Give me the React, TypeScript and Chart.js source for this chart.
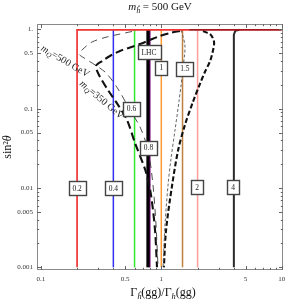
import React, { useEffect, useRef } from "react";
import { Chart, registerables } from "chart.js";

Chart.register(...registerables);

const FONT = "'Liberation Serif', 'DejaVu Serif', serif";

// axis ranges
const xRange = [0.093, 10.23];
const yRange = [0.000925, 1.173];

// tick labels
const xTickValues = [0.1, 0.5, 1, 5, 10];
const xTickText = ["0.1", "0.5", "1", "5", "10"];
const yTickValues = [0.001, 0.005, 0.01, 0.05, 0.1, 0.5, 1];
const yTickText = ["0.001", "0.005", "0.01", "0.05", "0.1", "0.5", "1."];

// contour lines of constant ratio
const contourValues = [0.2, 0.4, 0.6, 0.8, 1, 1.5, 2, 4];
const contourNames = ["0.2", "0.4", "0.6", "0.8", "1", "1.5", "2", "4"];
const lhcValue = 0.775;
const yBottom = 0.001;
const yTop = 0.99;
const xEnd = 10;
const redBendX = 1.7;
const fourHookX = [4, 4, 4.12, 4.45];
const fourHookY = [0.001, 0.86, 0.965, 0.99];

// label boxes
const boxText = ["0.2", "0.4", "0.6", "0.8", "1", "1.5", "2", "4", "LHC"];
const boxX = [0.2, 0.4, 0.566, 0.783, 1.0, 1.57, 1.98, 3.94, 0.791];
const boxY = [0.01, 0.01, 0.1, 0.032, 0.327, 0.322, 0.0102, 0.0102, 0.513];

// m_Q = 500 GeV (left branch)
const m500LeftX = [0.572, 0.437, 0.341, 0.266, 0.229, 0.208, 0.229, 0.282, 0.348, 0.437, 0.55, 0.666, 0.776, 0.853, 0.904, 0.939];
const m500LeftY = [0.944, 0.865, 0.793, 0.695, 0.584, 0.491, 0.437, 0.357, 0.283, 0.178, 0.0965, 0.0589, 0.0302, 0.0109, 0.00342, 0.001];
// m_Q = 500 GeV (right branch)
const m500RightX = [1.46, 1.51, 1.57, 1.56, 1.51, 1.46, 1.4, 1.3, 1.2, 1.137, 1.073, 1.033];
const m500RightY = [0.985, 0.828, 0.637, 0.477, 0.327, 0.2, 0.122, 0.054, 0.0226, 0.0109, 0.00342, 0.001];
// m_Q = 350 GeV (left branch)
const m350LeftX = [1.43, 1.18, 0.976, 0.805, 0.666, 0.55, 0.454, 0.375, 0.323, 0.287, 0.304, 0.361, 0.437, 0.519, 0.605, 0.746, 0.821, 0.887, 0.921];
const m350LeftY = [0.957, 0.904, 0.828, 0.738, 0.656, 0.593, 0.536, 0.463, 0.4, 0.346, 0.267, 0.172, 0.112, 0.0722, 0.037, 0.0159, 0.00817, 0.00295, 0.001];
// m_Q = 350 GeV (right branch)
const m350RightX = [2.22, 2.58, 2.74, 2.69, 2.54, 2.3, 2.09, 1.83, 1.57, 1.38, 1.23, 1.095, 1.05];
const m350RightY = [0.957, 0.852, 0.695, 0.551, 0.4, 0.291, 0.205, 0.122, 0.0624, 0.0302, 0.0109, 0.00295, 0.001];

// curve label anchors
const curveLabelX = [0.159, 0.319];
const curveLabelY = [0.395, 0.129];
const curveLabelMass = ["500", "350"];

const contourColors = ["#f03434", "#3030f0", "#30e830", "#7a007a", "#ff9a30", "#c08040", "#ff9c9c", "#2a2a2a"];

type Part = { t: string; it?: boolean; sub?: boolean };

function partFont(p: Part, size: number) {
  const s = p.sub ? size * 0.7 : size;
  return `${p.it ? "italic " : ""}${s}px ${FONT}`;
}
function measureParts(ctx: CanvasRenderingContext2D, parts: Part[], size: number) {
  let w = 0;
  for (const p of parts) {
    ctx.font = partFont(p, size);
    w += ctx.measureText(p.t).width;
  }
  return w;
}
function drawParts(ctx: CanvasRenderingContext2D, parts: Part[], size: number, cx: number, y: number) {
  const w = measureParts(ctx, parts, size);
  let x = cx - w / 2;
  ctx.textAlign = "left";
  for (const p of parts) {
    ctx.font = partFont(p, size);
    ctx.fillText(p.t, x, y + (p.sub ? size * 0.28 : 0));
    x += ctx.measureText(p.t).width;
  }
}

const zip = (xs: number[], ys: number[]) => xs.map((x, i) => ({ x, y: ys[i] }));

const decorPlugin = {
  id: "decor",
  afterDatasetsDraw(chart: any) {
    const { ctx, chartArea: a, scales } = chart;
    const xs = scales.x;
    const ys = scales.y;
    ctx.save();

    // label boxes
    ctx.textBaseline = "middle";
    for (let i = 0; i < boxText.length; i++) {
      const px = xs.getPixelForValue(boxX[i]);
      const py = ys.getPixelForValue(boxY[i]);
      ctx.font = `7.5px ${FONT}`;
      const tw = ctx.measureText(boxText[i]).width;
      const w = Math.round(tw + 8);
      const h = 14;
      const l = Math.round(px - w / 2) + 0.5;
      const t = Math.round(py - h / 2) + 0.5;
      ctx.fillStyle = "#fff";
      ctx.fillRect(l, t, w, h);
      ctx.strokeStyle = "#444";
      ctx.lineWidth = 1.4;
      ctx.strokeRect(l, t, w, h);
      ctx.fillStyle = "#222";
      ctx.textAlign = "center";
      ctx.fillText(boxText[i], px, py + 0.5);
    }

    // curve labels
    const angles = [30.4, 40];
    for (let i = 0; i < curveLabelX.length; i++) {
      const px = xs.getPixelForValue(curveLabelX[i]);
      const py = ys.getPixelForValue(curveLabelY[i]);
      ctx.save();
      ctx.translate(px, py);
      ctx.rotate((angles[i] * Math.PI) / 180);
      ctx.fillStyle = "#222";
      ctx.textBaseline = "middle";
      drawParts(ctx, [{ t: "m", it: true }, { t: "Q", it: true, sub: true }, { t: `=${curveLabelMass[i]} GeV` }], 10, 0, 0);
      ctx.restore();
    }

    // frame
    ctx.strokeStyle = "#8a8a8a";
    ctx.lineWidth = 1;
    ctx.strokeRect(a.left + 0.5, a.top + 0.5, a.right - a.left - 1, a.bottom - a.top - 1);

    // ticks
    const minorOf = (lo: number, hi: number) => {
      const out: number[] = [];
      for (let d = 0.0001; d <= 100; d *= 10) {
        for (let m = 1; m <= 9; m++) {
          const v = +(m * d).toPrecision(6);
          if (v >= lo && v <= hi) out.push(v);
        }
      }
      return out;
    };
    ctx.strokeStyle = "#666";
    ctx.lineWidth = 1;
    const xAll = minorOf(xRange[0], xRange[1]);
    for (const v of xAll) {
      const major = xTickValues.some((m) => Math.abs(m - v) / m < 1e-6);
      const len = major ? 4 : 2.2;
      const px = Math.round(xs.getPixelForValue(v)) + 0.5;
      ctx.beginPath();
      ctx.moveTo(px, a.bottom);
      ctx.lineTo(px, a.bottom - len);
      ctx.moveTo(px, a.top);
      ctx.lineTo(px, a.top + len);
      ctx.stroke();
    }
    const yAll = minorOf(yRange[0], yRange[1]);
    for (const v of yAll) {
      const major = yTickValues.some((m) => Math.abs(m - v) / m < 1e-6);
      const len = major ? 4 : 2.2;
      const py = Math.round(ys.getPixelForValue(v)) + 0.5;
      ctx.beginPath();
      ctx.moveTo(a.left, py);
      ctx.lineTo(a.left + len, py);
      ctx.moveTo(a.right, py);
      ctx.lineTo(a.right - len, py);
      ctx.stroke();
    }

    // tick labels
    ctx.fillStyle = "#333";
    ctx.font = `7px ${FONT}`;
    ctx.textAlign = "center";
    ctx.textBaseline = "middle";
    xTickValues.forEach((v, i) => {
      ctx.fillText(xTickText[i], xs.getPixelForValue(v), a.bottom + 9);
    });
    ctx.textAlign = "right";
    yTickValues.forEach((v, i) => {
      ctx.fillText(yTickText[i], a.left - 4, ys.getPixelForValue(v));
    });

    // title
    ctx.fillStyle = "#111";
    ctx.textBaseline = "alphabetic";
    drawParts(ctx, [{ t: "m", it: true }, { t: "ĥ", it: true, sub: true }, { t: " = 500 GeV" }], 11, (a.left + a.right) / 2, 10);

    // x axis title
    drawParts(
      ctx,
      [{ t: "Γ" }, { t: "ĥ", it: true, sub: true }, { t: "(gg)/Γ" }, { t: "h", it: true, sub: true }, { t: "(gg)" }],
      12,
      (a.left + a.right) / 2 + 3,
      296
    );

    // y axis title
    ctx.save();
    ctx.translate(11, (a.top + a.bottom) / 2);
    ctx.rotate(-Math.PI / 2);
    drawParts(ctx, [{ t: "sin²" }, { t: "θ", it: true }], 12, 0, 0);
    ctx.restore();

    ctx.restore();
  },
};

export default function App() {
  const ref = useRef<HTMLCanvasElement>(null);

  useEffect(() => {
    const lineDs = (data: any[], color: string, width: number, order: number, extra: any = {}) => ({
      data,
      borderColor: color,
      borderWidth: width,
      showLine: true,
      pointRadius: 0,
      tension: 0,
      fill: false,
      order,
      ...extra,
    });

    const datasets: any[] = [];
    // red contour (on top), turning into the top edge
    datasets.push(
      lineDs(
        zip([contourValues[0], contourValues[0], redBendX, xEnd], [yBottom, yTop, yTop, yTop]),
        contourColors[0],
        1.7,
        0,
        {
          segment: {
            borderColor: (c: any) => (c.p0.parsed.x >= redBendX - 1e-9 ? "#a3161a" : contourColors[0]),
          },
        }
      )
    );
    // curves
    datasets.push(lineDs(zip(m500LeftX, m500LeftY), "#3a3a3a", 0.9, 1, { borderDash: [7, 5], tension: 0.3 }));
    datasets.push(lineDs(zip(m500RightX, m500RightY), "#555", 0.9, 1, { borderDash: [3, 2], tension: 0.3 }));
    datasets.push(lineDs(zip(m350LeftX, m350LeftY), "#111", 2.1, 1, { borderDash: [8, 4], tension: 0.3 }));
    datasets.push(lineDs(zip(m350RightX, m350RightY), "#111", 2.1, 1, { borderDash: [5, 2.5], tension: 0.3 }));
    // other contour lines
    for (let i = 1; i < contourValues.length; i++) {
      const v = contourValues[i];
      const data = v === 4 ? zip(fourHookX, fourHookY) : zip([v, v], [yBottom, yTop]);
      const w = v === 4 ? 2 : v === 0.8 ? 1.8 : 1.5;
      datasets.push(lineDs(data, contourColors[i], w, 3));
    }
    // LHC line
    datasets.push(lineDs(zip([lhcValue, lhcValue], [yBottom, yTop]), "#000", 3.2, 2));

    const chart = new Chart(ref.current!, {
      type: "scatter",
      data: { datasets },
      options: {
        animation: false,
        responsive: false,
        layout: { padding: { left: 37, right: 8, top: 24, bottom: 31 } },
        plugins: { legend: { display: false }, tooltip: { enabled: false }, title: { display: false } },
        scales: {
          x: { type: "logarithmic", min: xRange[0], max: xRange[1], display: false },
          y: { type: "logarithmic", min: yRange[0], max: yRange[1], display: false },
        },
        elements: { point: { radius: 0 } },
      },
      plugins: [decorPlugin],
    } as any);
    return () => chart.destroy();
  }, []);

  return (
    <div style={{ position: "absolute", left: 0, top: 0, width: 291, height: 301, background: "#fff" }}>
      <canvas ref={ref} width={291} height={301} style={{ display: "block", width: 291, height: 301 }} />
    </div>
  );
}
